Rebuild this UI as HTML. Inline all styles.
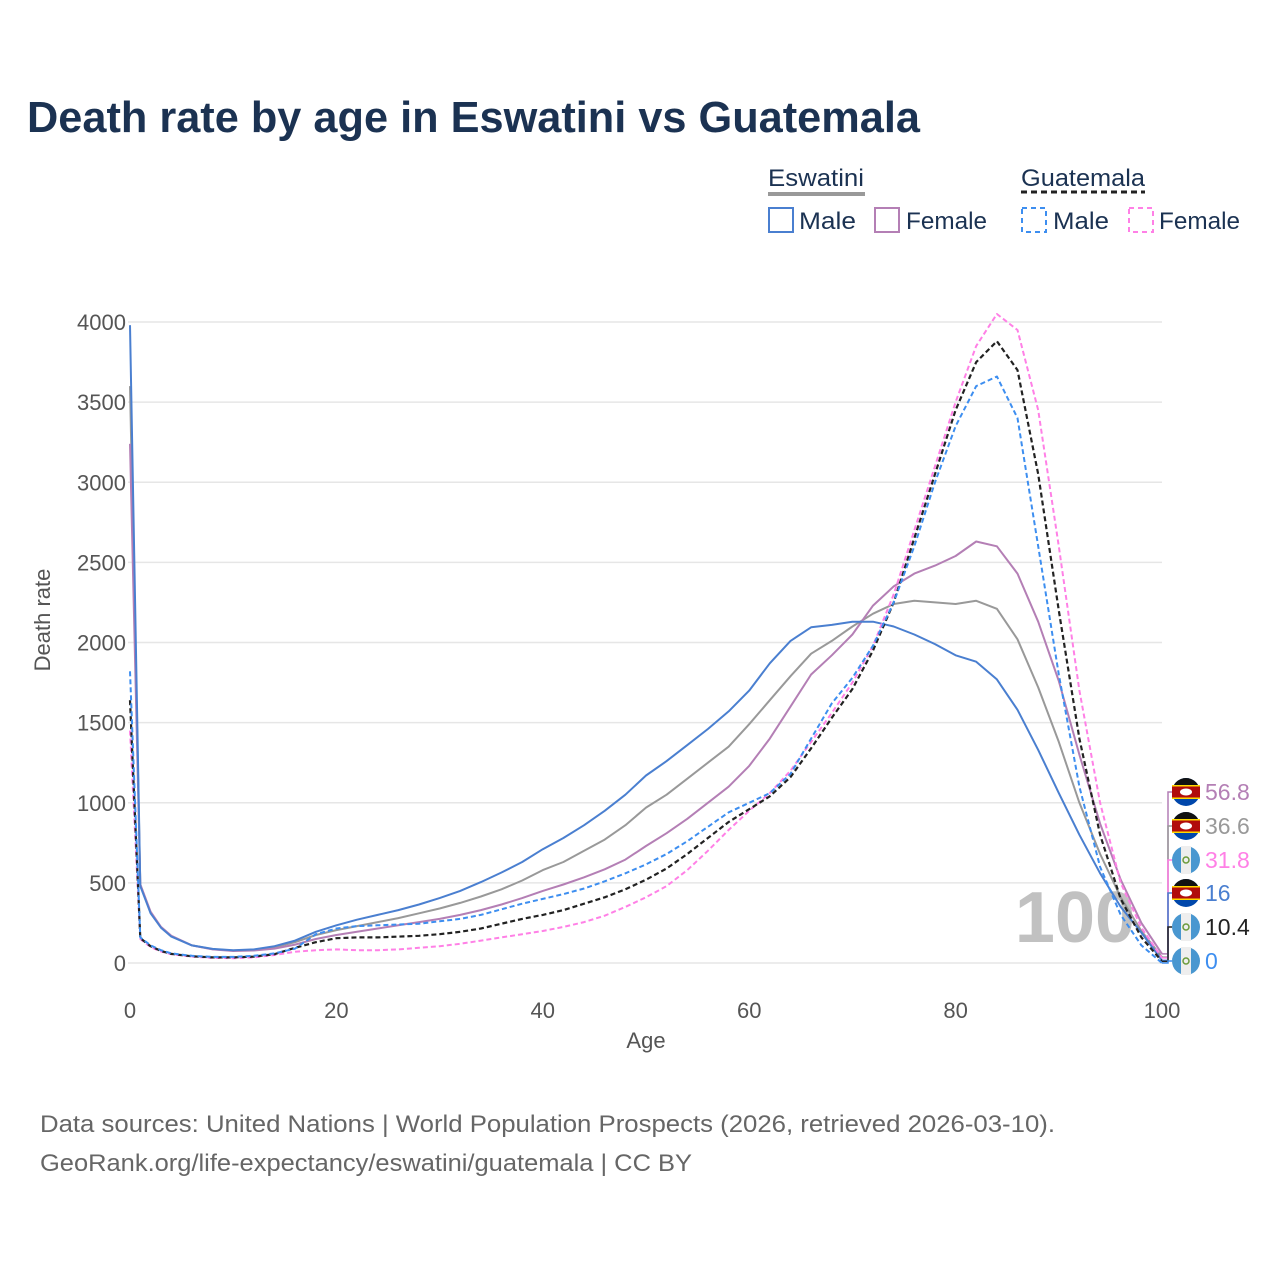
<!DOCTYPE html>
<html><head><meta charset="utf-8">
<style>
html,body{margin:0;padding:0;background:#fff;}
body{width:1280px;height:1280px;overflow:hidden;font-family:"Liberation Sans",sans-serif;}
svg text{font-family:"Liberation Sans",sans-serif;}
</style></head>
<body>
<svg id="chart" width="1280" height="1280" viewBox="0 0 1280 1280">
<text x="27" y="132" font-size="44" font-weight="bold" fill="#1b3252" textLength="893" lengthAdjust="spacingAndGlyphs">Death rate by age in Eswatini vs Guatemala</text>
<g>
 <text x="768" y="186" font-size="24" fill="#1b3252" textLength="96" lengthAdjust="spacingAndGlyphs">Eswatini</text>
 <line x1="768" y1="194" x2="865" y2="194" stroke="#999" stroke-width="4"/>
 <text x="1021" y="186" font-size="24" fill="#1b3252" textLength="124" lengthAdjust="spacingAndGlyphs">Guatemala</text>
 <line x1="1021" y1="192" x2="1145" y2="192" stroke="#222" stroke-width="3" stroke-dasharray="6,4"/>
 <g><rect x="769" y="208" width="24" height="24" fill="none" stroke="#4a7fd0" stroke-width="2"/><text x="799" y="229" font-size="24" fill="#1b3252" textLength="57" lengthAdjust="spacingAndGlyphs">Male</text></g>
 <g><rect x="875" y="208" width="24" height="24" fill="none" stroke="#b47fb5" stroke-width="2"/><text x="906" y="229" font-size="24" fill="#1b3252" textLength="81" lengthAdjust="spacingAndGlyphs">Female</text></g>
 <g><rect x="1022" y="208" width="24" height="24" fill="none" stroke="#3d8ef0" stroke-width="2" stroke-dasharray="5,4"/><text x="1053" y="229" font-size="24" fill="#1b3252" textLength="56" lengthAdjust="spacingAndGlyphs">Male</text></g>
 <g><rect x="1129" y="208" width="24" height="24" fill="none" stroke="#ff80e6" stroke-width="2" stroke-dasharray="5,4"/><text x="1159" y="229" font-size="24" fill="#1b3252" textLength="81" lengthAdjust="spacingAndGlyphs">Female</text></g>
</g>
<g id="grid"></g>
<g id="axes"></g>
<text x="1075" y="942" font-size="72" font-weight="bold" fill="#bbb" text-anchor="middle" opacity="0.9">100</text>
<g id="series"></g>
<g id="endlabels"></g>
<text x="50" y="620" font-size="22" fill="#555" text-anchor="middle" transform="rotate(-90 50 620)">Death rate</text>
<text x="646" y="1048" font-size="22" fill="#555" text-anchor="middle">Age</text>
<text x="40" y="1132" font-size="24" fill="#666" textLength="1015" lengthAdjust="spacingAndGlyphs">Data sources: United Nations | World Population Prospects (2026, retrieved 2026-03-10).</text>
<text x="40" y="1171" font-size="24" fill="#666" textLength="652" lengthAdjust="spacingAndGlyphs">GeoRank.org/life-expectancy/eswatini/guatemala | CC BY</text>
</svg>
<script>
const ages=[0,1,2,3,4,6,8,10,12,14,16,18,20,22,24,26,28,30,32,34,36,38,40,42,44,46,48,50,52,54,56,58,60,62,64,66,68,70,72,74,76,78,80,82,84,86,88,90,92,94,96,98,100];
const eswMale=[3980,480,310,220,165,110,88,80,85,105,140,195,235,270,300,330,365,405,450,505,565,630,710,780,860,950,1050,1170,1260,1360,1460,1570,1700,1870,2010,2095,2110,2130,2130,2100,2050,1990,1920,1880,1770,1580,1330,1060,800,560,350,190,16];
const eswFemale=[3240,490,320,225,170,110,85,75,78,90,115,150,175,195,215,235,255,275,300,330,365,405,450,490,535,585,645,730,810,900,1000,1100,1230,1400,1600,1800,1920,2050,2230,2350,2430,2480,2540,2630,2600,2430,2130,1760,1300,870,520,250,56.8];
const eswTotal=[3600,490,315,222,168,110,86,78,82,98,130,175,205,230,255,280,310,340,375,415,460,515,580,630,700,770,860,970,1050,1150,1250,1350,1490,1640,1790,1930,2010,2100,2180,2240,2260,2250,2240,2260,2210,2020,1720,1380,1000,680,410,200,36.6];
const guaMale=[1820,160,110,80,60,45,38,38,45,60,90,180,215,230,235,240,245,260,275,300,335,370,400,430,465,510,560,615,680,760,850,940,1000,1060,1180,1400,1620,1780,1980,2250,2600,3000,3350,3600,3660,3400,2600,1800,1100,600,300,110,0];
const guaTotal=[1640,155,105,75,57,42,35,35,40,55,95,130,155,160,160,165,170,180,195,215,245,275,300,330,370,410,460,520,590,680,780,880,960,1040,1160,1340,1530,1710,1950,2250,2650,3050,3450,3750,3880,3700,3050,2200,1400,800,400,160,10.4];
const guaFemale=[1450,150,100,72,55,40,32,30,35,50,70,80,85,80,80,85,95,105,120,140,160,180,200,225,255,295,350,410,480,580,700,830,950,1060,1200,1380,1560,1750,1980,2300,2700,3100,3500,3850,4050,3950,3450,2600,1700,1000,500,220,31.8];
const yTicks=[0,500,1000,1500,2000,2500,3000,3500,4000];
const xTicks=[0,20,40,60,80,100];
const endValues=[56.8,36.6,31.8,16,10.4,0];

const NS="http://www.w3.org/2000/svg";
const X=a=>130+a*10.32;
const Y=v=>963-v*0.16025;
function mk(tag,attrs,parent){const e=document.createElementNS(NS,tag);for(const k in attrs)e.setAttribute(k,attrs[k]);parent.appendChild(e);return e;}
const grid=document.getElementById('grid'),axes=document.getElementById('axes');
yTicks.forEach(t=>{
 const l=mk('line',{x1:128,x2:1162,y1:Y(t),y2:Y(t),stroke:'#e6e6e6','stroke-width':1.5},grid);
 
 
 const tx=mk('text',{x:126,y:Y(t)+8,'font-size':22,fill:'#555','text-anchor':'end'},axes);
 tx.textContent=t;
 
 
});
xTicks.forEach(t=>{
 const tx=mk('text',{x:X(t),y:1018,'font-size':22,fill:'#555','text-anchor':'middle'},axes);
 tx.textContent=t;
 
 
});
const seriesG=document.getElementById('series');
const defs=[
 [eswTotal,'#999','',2,'line-eswatini-total'],
 [eswFemale,'#b47fb5','',2,'line-eswatini-female'],
 [eswMale,'#4a7fd0','',2,'line-eswatini-male'],
 [guaFemale,'#ff80e6','5,3',2,'line-guatemala-female'],
 [guaTotal,'#222','5,3',2.2,'line-guatemala-total'],
 [guaMale,'#3d8ef0','5,3',2,'line-guatemala-male']
];
defs.forEach(d=>{
 const pts=d[0].map((v,i)=>X(ages[i]).toFixed(1)+','+Y(v).toFixed(1)).join(' ');
 const p=mk('polyline',{points:pts,fill:'none',stroke:d[1],'stroke-width':d[3],'stroke-linejoin':'round'},seriesG);
 if(d[2])p.setAttribute('stroke-dasharray',d[2]);
 
 
});
const el=document.getElementById('endlabels');
const labColors=['#b47fb5','#999','#ff80e6','#4a7fd0','#222','#3d8ef0'];
const flags=['sz','sz','gt','sz','gt','gt'];
const ly=[792,826,860,893,927,961];
labColors.forEach((c,i)=>{
 mk('polyline',{points:`${X(100)},${Y(endValues[i])} 1168,${Y(endValues[i])} 1168,${ly[i]} 1172,${ly[i]}`,fill:'none',stroke:c,'stroke-width':1.5},el);
 const g=mk('g',{},el);
 
 
 const cx=1186,cy=ly[i];
 if(flags[i]==='sz'){
  mk('circle',{cx,cy,r:14,fill:'#0047ab'},g);
  mk('path',{d:`M${cx-14},${cy} A14,14 0 0 1 ${cx+14},${cy} Z`,fill:'#111'},g);
  mk('rect',{x:cx-14,y:cy-6,width:28,height:12,fill:'#b10c0c'},g);
  mk('rect',{x:cx-14,y:cy-7,width:28,height:1.5,fill:'#ffd900'},g);
  mk('rect',{x:cx-14,y:cy+5.5,width:28,height:1.5,fill:'#ffd900'},g);
  mk('ellipse',{cx,cy,rx:6,ry:3.5,fill:'#fff'},g);
 }else{
  mk('circle',{cx,cy,r:14,fill:'#4997d0'},g);
  mk('rect',{x:cx-5,y:cy-14,width:10,height:28,fill:'#eee'},g);
  mk('circle',{cx,cy,r:3,fill:'none',stroke:'#6a9a3a','stroke-width':1.5},g);
 }
 const t=mk('text',{x:1205,y:ly[i]+8,'font-size':23,fill:c},el);
 t.textContent=endValues[i];
 
 
});
</script>
</body></html>
